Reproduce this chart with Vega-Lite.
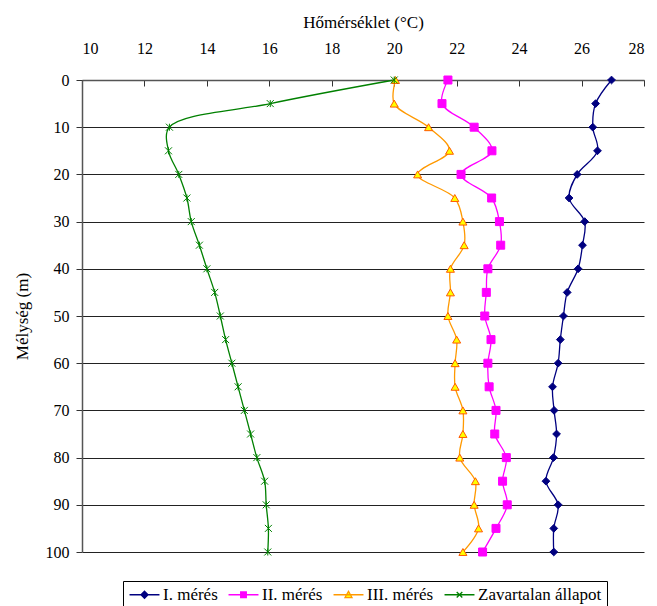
{
  "$schema": "https://vega.github.io/schema/vega-lite/v6.json",
  "width": 562,
  "height": 472,
  "autosize": "none",
  "padding": {"left": 82, "top": 80, "right": 13, "bottom": 54},
  "config": {
    "view": {"stroke": null},
    "font": "Liberation Serif"
  },
  "data": {
    "values": [
      {"series": "I. mérés", "depth": 0, "temp": 26.96},
      {"series": "I. mérés", "depth": 5, "temp": 26.45},
      {"series": "I. mérés", "depth": 10, "temp": 26.36},
      {"series": "I. mérés", "depth": 15, "temp": 26.51},
      {"series": "I. mérés", "depth": 20, "temp": 25.86},
      {"series": "I. mérés", "depth": 25, "temp": 25.6},
      {"series": "I. mérés", "depth": 30, "temp": 26.1},
      {"series": "I. mérés", "depth": 35, "temp": 26.03},
      {"series": "I. mérés", "depth": 40, "temp": 25.89},
      {"series": "I. mérés", "depth": 45, "temp": 25.54},
      {"series": "I. mérés", "depth": 50, "temp": 25.42},
      {"series": "I. mérés", "depth": 55, "temp": 25.32},
      {"series": "I. mérés", "depth": 60, "temp": 25.25},
      {"series": "I. mérés", "depth": 65, "temp": 25.07},
      {"series": "I. mérés", "depth": 70, "temp": 25.12},
      {"series": "I. mérés", "depth": 75, "temp": 25.2},
      {"series": "I. mérés", "depth": 80, "temp": 25.1},
      {"series": "I. mérés", "depth": 85, "temp": 24.86},
      {"series": "I. mérés", "depth": 90, "temp": 25.25},
      {"series": "I. mérés", "depth": 95, "temp": 25.11},
      {"series": "I. mérés", "depth": 100, "temp": 25.11},
      {"series": "II. mérés", "depth": 0, "temp": 21.72},
      {"series": "II. mérés", "depth": 5, "temp": 21.53},
      {"series": "II. mérés", "depth": 10, "temp": 22.56},
      {"series": "II. mérés", "depth": 15, "temp": 23.13},
      {"series": "II. mérés", "depth": 20, "temp": 22.14},
      {"series": "II. mérés", "depth": 25, "temp": 23.12},
      {"series": "II. mérés", "depth": 30, "temp": 23.37},
      {"series": "II. mérés", "depth": 35, "temp": 23.41},
      {"series": "II. mérés", "depth": 40, "temp": 23.0},
      {"series": "II. mérés", "depth": 45, "temp": 22.95},
      {"series": "II. mérés", "depth": 50, "temp": 22.9},
      {"series": "II. mérés", "depth": 55, "temp": 23.1},
      {"series": "II. mérés", "depth": 60, "temp": 23.0},
      {"series": "II. mérés", "depth": 65, "temp": 23.04},
      {"series": "II. mérés", "depth": 70, "temp": 23.26},
      {"series": "II. mérés", "depth": 75, "temp": 23.22},
      {"series": "II. mérés", "depth": 80, "temp": 23.59},
      {"series": "II. mérés", "depth": 85, "temp": 23.47},
      {"series": "II. mérés", "depth": 90, "temp": 23.62},
      {"series": "II. mérés", "depth": 95, "temp": 23.26},
      {"series": "II. mérés", "depth": 100, "temp": 22.83},
      {"series": "III. mérés", "depth": 0, "temp": 20.04},
      {"series": "III. mérés", "depth": 5, "temp": 20.0},
      {"series": "III. mérés", "depth": 10, "temp": 21.1},
      {"series": "III. mérés", "depth": 15, "temp": 21.77},
      {"series": "III. mérés", "depth": 20, "temp": 20.75},
      {"series": "III. mérés", "depth": 25, "temp": 21.94},
      {"series": "III. mérés", "depth": 30, "temp": 22.2},
      {"series": "III. mérés", "depth": 35, "temp": 22.24},
      {"series": "III. mérés", "depth": 40, "temp": 21.8},
      {"series": "III. mérés", "depth": 45, "temp": 21.8},
      {"series": "III. mérés", "depth": 50, "temp": 21.72},
      {"series": "III. mérés", "depth": 55, "temp": 22.0},
      {"series": "III. mérés", "depth": 60, "temp": 21.95},
      {"series": "III. mérés", "depth": 65, "temp": 21.95},
      {"series": "III. mérés", "depth": 70, "temp": 22.2},
      {"series": "III. mérés", "depth": 75, "temp": 22.2},
      {"series": "III. mérés", "depth": 80, "temp": 22.1},
      {"series": "III. mérés", "depth": 85, "temp": 22.6},
      {"series": "III. mérés", "depth": 90, "temp": 22.56},
      {"series": "III. mérés", "depth": 95, "temp": 22.7},
      {"series": "III. mérés", "depth": 100, "temp": 22.2},
      {"series": "Zavartalan állapot", "depth": 0, "temp": 20.0},
      {"series": "Zavartalan állapot", "depth": 5, "temp": 16.03},
      {"series": "Zavartalan állapot", "depth": 10, "temp": 12.8},
      {"series": "Zavartalan állapot", "depth": 15, "temp": 12.77},
      {"series": "Zavartalan állapot", "depth": 20, "temp": 13.1},
      {"series": "Zavartalan állapot", "depth": 25, "temp": 13.36},
      {"series": "Zavartalan állapot", "depth": 30, "temp": 13.5},
      {"series": "Zavartalan állapot", "depth": 35, "temp": 13.76},
      {"series": "Zavartalan állapot", "depth": 40, "temp": 14.0},
      {"series": "Zavartalan állapot", "depth": 45, "temp": 14.25},
      {"series": "Zavartalan állapot", "depth": 50, "temp": 14.43},
      {"series": "Zavartalan állapot", "depth": 55, "temp": 14.6},
      {"series": "Zavartalan állapot", "depth": 60, "temp": 14.8},
      {"series": "Zavartalan állapot", "depth": 65, "temp": 15.0},
      {"series": "Zavartalan állapot", "depth": 70, "temp": 15.2},
      {"series": "Zavartalan állapot", "depth": 75, "temp": 15.4},
      {"series": "Zavartalan állapot", "depth": 80, "temp": 15.6},
      {"series": "Zavartalan állapot", "depth": 85, "temp": 15.85},
      {"series": "Zavartalan állapot", "depth": 90, "temp": 15.9},
      {"series": "Zavartalan állapot", "depth": 95, "temp": 15.97},
      {"series": "Zavartalan állapot", "depth": 100, "temp": 15.95}
    ]
  },
  "encoding": {
    "x": {
      "field": "temp",
      "type": "quantitative",
      "scale": {"domain": [10, 28], "nice": false, "zero": false},
      "axis": {
        "orient": "top",
        "title": "Hőmérséklet (°C)",
        "values": [10, 12, 14, 16, 18, 20, 22, 24, 26, 28],
        "grid": false,
        "tickSize": -6,
        "tickColor": "#333333",
        "domainColor": "#555555",
        "domainWidth": 1.5,
        "labelFont": "Liberation Serif",
        "labelFontSize": 16,
        "labelColor": "black",
        "labelPadding": 30,
        "titleFont": "Liberation Serif",
        "titleFontSize": 17,
        "titleFontWeight": "normal",
        "titleColor": "black",
        "titlePadding": 9
      }
    },
    "y": {
      "field": "depth",
      "type": "quantitative",
      "scale": {"domain": [0, 100], "reverse": true, "nice": false, "zero": false},
      "axis": {
        "title": "Mélység (m)",
        "values": [0, 10, 20, 30, 40, 50, 60, 70, 80, 90, 100],
        "grid": true,
        "gridColor": "#222222",
        "gridOpacity": 1,
        "gridWidth": 1,
        "tickSize": 6,
        "tickColor": "#333333",
        "domainColor": "#555555",
        "domainWidth": 1.5,
        "labelFont": "Liberation Serif",
        "labelFontSize": 16,
        "labelColor": "black",
        "labelPadding": 7,
        "titleFont": "Liberation Serif",
        "titleFontSize": 17,
        "titleFontWeight": "normal",
        "titleColor": "black",
        "titlePadding": 14
      }
    }
  },
  "layer": [
    {
      "mark": {"type": "line", "interpolate": "catmull-rom", "strokeWidth": 1.3},
      "encoding": {
        "order": {"field": "depth", "type": "quantitative"},
        "color": {
          "field": "series",
          "type": "nominal",
          "scale": {
            "domain": ["I. mérés", "II. mérés", "III. mérés", "Zavartalan állapot"],
            "range": ["#000080", "#FF00FF", "#FF9900", "#008000"]
          },
          "legend": {
            "orient": "none",
            "legendX": 41,
            "legendY": 501,
            "direction": "horizontal",
            "title": null,
            "padding": 5,
            "strokeColor": "black",
            "fillColor": "white",
            "symbolSize": 196,
            "symbolOffset": 8,
            "symbolStrokeWidth": 1.3,
            "labelFont": "Liberation Serif",
            "labelFontSize": 17,
            "labelColor": "black",
            "labelOffset": 10,
            "columnPadding": 7,
            "encode": {
              "symbols": {
                "update": {
                  "shape": {"signal": "datum.value === 'I. mérés' ? 'M-2.14,0H2.14M0,-0.5L0.5,0L0,0.5L-0.5,0Z' : datum.value === 'II. mérés' ? 'M-2.14,0H2.14M-0.4,-0.4H0.4V0.4H-0.4Z' : datum.value === 'III. mérés' ? 'M-2.14,0H2.14M0,-0.5L0.5,0.4L-0.5,0.4Z' : 'M-2.14,0H2.14M-0.4,-0.4L0.4,0.4M-0.4,0.4L0.4,-0.4'"},
                  "fill": {"signal": "datum.value === 'I. mérés' ? '#000080' : datum.value === 'II. mérés' ? '#FF00FF' : datum.value === 'III. mérés' ? '#FFFF00' : 'transparent'"},
                  "stroke": {"signal": "datum.value === 'I. mérés' ? '#000080' : datum.value === 'II. mérés' ? '#FF00FF' : datum.value === 'III. mérés' ? '#FF9900' : '#008000'"},
                  "strokeWidth": {"value": 1.3},
                  "opacity": {"value": 1}
                }
              }
            }
          }
        }
      }
    },
    {
      "transform": [{"filter": "datum.series === 'I. mérés'"}],
      "mark": {"type": "point", "shape": "diamond", "filled": true, "fill": "#000080", "stroke": "#000080", "strokeWidth": 1, "size": 60, "opacity": 1}
    },
    {
      "transform": [{"filter": "datum.series === 'II. mérés'"}],
      "mark": {"type": "point", "shape": "square", "filled": true, "fill": "#FF00FF", "stroke": "#FF00FF", "strokeWidth": 1, "size": 64, "opacity": 1}
    },
    {
      "transform": [{"filter": "datum.series === 'III. mérés'"}],
      "mark": {"type": "point", "shape": "triangle-up", "filled": true, "fill": "#FFFF00", "stroke": "#FF5A00", "strokeWidth": 1, "size": 64, "opacity": 1}
    },
    {
      "transform": [{"filter": "datum.series === 'Zavartalan állapot'"}],
      "mark": {"type": "point", "shape": "M-1,-1L1,1M-1,1L1,-1M0,-1V1", "filled": false, "stroke": "#008000", "strokeWidth": 1, "size": 49, "opacity": 1}
    }
  ]
}
